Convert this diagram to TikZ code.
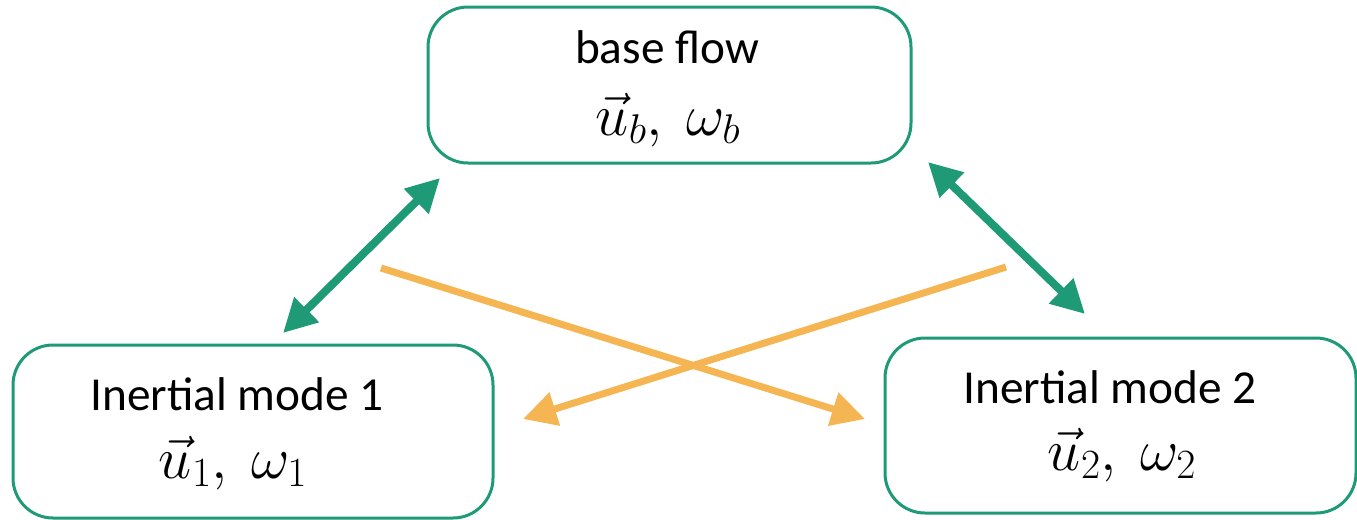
\RequirePackage{fix-cm}
\documentclass[tikz,border=0pt]{standalone}
\usepackage{fontspec}
\setmainfont{Carlito}
\usetikzlibrary{arrows.meta}
\definecolor{boxgreen}{HTML}{1F9A77}
\definecolor{arrorange}{HTML}{F5B552}
\begin{document}
\begin{tikzpicture}[x=0.75pt,y=-0.75pt,
  box/.style={draw=boxgreen,line width=2.25pt,rounded corners=30pt,inner sep=0pt},
  lbl/.style={anchor=base,inner sep=0pt,font=\fontsize{35.5}{42}\selectfont},
  mth/.style={anchor=base,inner sep=0pt,font=\fontsize{44.5}{52}\selectfont},
  garrow/.style={draw=boxgreen,line width=6pt,{Triangle[length=25pt,width=25pt]}-{Triangle[length=25pt,width=25pt]}},
  oarrow/.style={draw=arrorange,line width=5.25pt,-{Triangle[length=25pt,width=25pt]}}]
\useasboundingbox (0,0) rectangle (1357,519);
\node[box,minimum width=362.25pt,minimum height=117pt] (base) at (669.5,85) {};
\node[box,minimum width=360pt,minimum height=129.75pt] (m1) at (253,431.5) {};
\node[box,minimum width=353.25pt,minimum height=131.25pt] (m2) at (1120.5,425.5) {};
\node[lbl] (baset) at (667,63) {base flow};
\node[mth] (basem) at (668,135) {$\vec{u}_b,\ \omega_b$};
\node[lbl] (m1t) at (237,410) {Inertial mode 1};
\node[mth] (m1m) at (233,478) {$\vec{u}_1,\ \omega_1$};
\node[lbl] (m2t) at (1110,403) {Inertial mode 2};
\node[mth] (m2m) at (1122,470) {$\vec{u}_2,\ \omega_2$};
\coordinate (g1a) at (440,178);
\coordinate (g1b) at (283,333);
\coordinate (g2a) at (928,162);
\coordinate (g2b) at (1085,314);
\coordinate (o1a) at (381,268);
\coordinate (o1b) at (865,419);
\coordinate (o2a) at (1006,267);
\coordinate (o2b) at (523,419);
\draw[garrow] (g1b) -- (g1a);
\draw[garrow] (g2a) -- (g2b);
\draw[oarrow] (o1a) -- (o1b);
\draw[oarrow] (o2a) -- (o2b);
\end{tikzpicture}
\end{document}
